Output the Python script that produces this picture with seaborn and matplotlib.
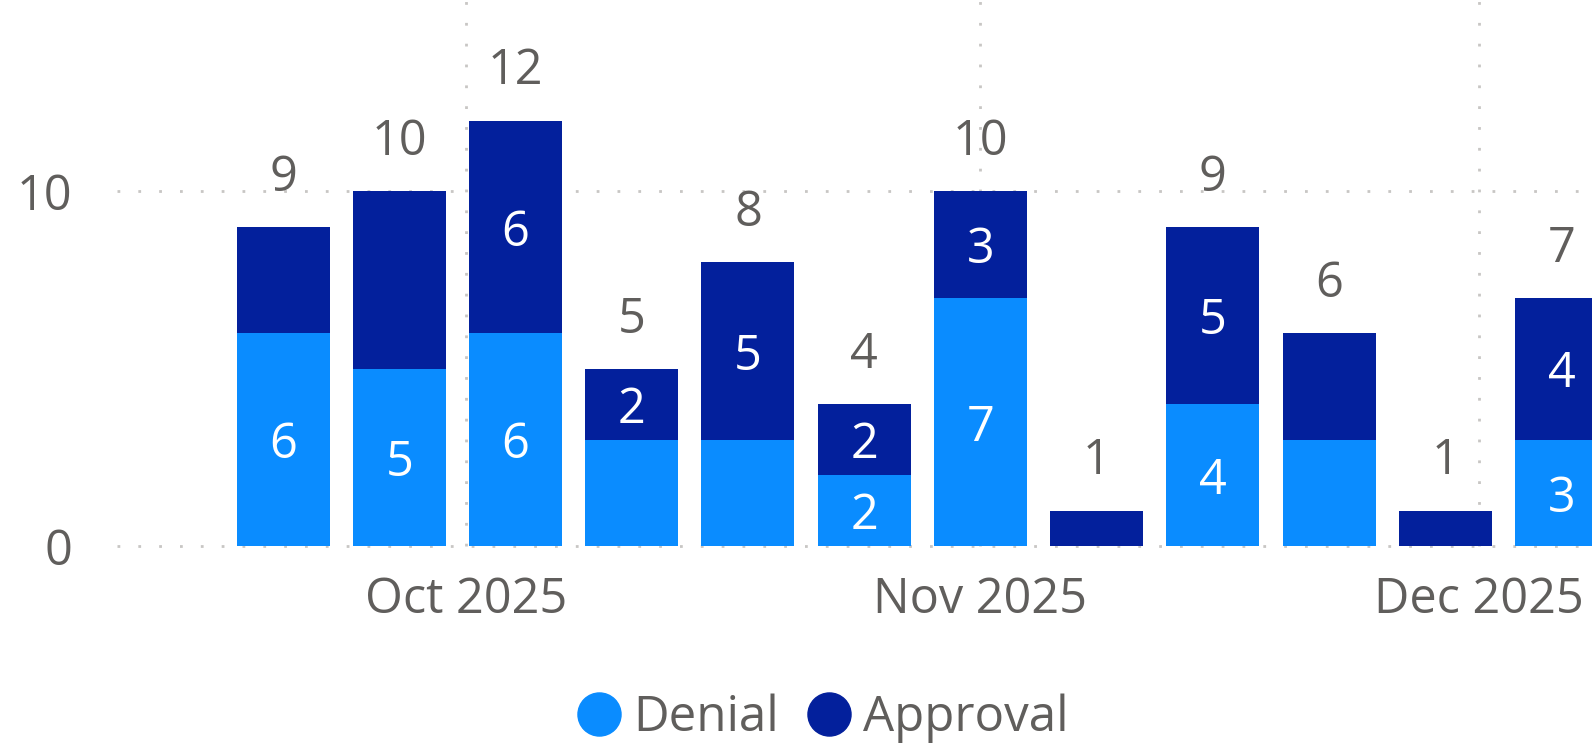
import matplotlib
matplotlib.use("Agg")
import pandas as pd
import seaborn as sns
import matplotlib.pyplot as plt
import matplotlib.dates as mdates
from matplotlib.lines import Line2D

# weekly counts (week ending, Saturday)
weeks = ["2025-09-20", "2025-09-27", "2025-10-04", "2025-10-11", "2025-10-18", "2025-10-25",
         "2025-11-01", "2025-11-08", "2025-11-15", "2025-11-22", "2025-11-29", "2025-12-06"]
denial = [6, 5, 6, 3, 3, 2, 7, 0, 4, 3, 0, 3]
approval = [3, 5, 6, 2, 5, 2, 3, 1, 5, 3, 1, 4]
# labels that are shown inside the segments (None = hidden)
denial_labels = [6, 5, 6, None, None, 2, 7, None, 4, None, None, 3]
approval_labels = [None, None, 6, 2, 5, 2, 3, None, 5, None, None, 4]
series = ["Denial", "Approval"]
colors = ["#0A8CFF", "#03209C"]
x_range = ["2025-09-10", "2025-12-07 20:00"]
y_ticks = [0, 10]

sns.set_theme(style="white")
plt.rcParams["font.family"] = ["Open Sans", "DejaVu Sans"]
txt_color = "#605E5C"

df = pd.DataFrame({"week": pd.to_datetime(weeks), "Denial": denial, "Approval": approval})
df["total"] = df["Denial"] + df["Approval"]
df["x"] = mdates.date2num(df["week"])

fig = plt.figure(figsize=(15.92, 7.51), dpi=100)
ax = fig.add_axes([0.0735, 0.273, 0.9265, 0.727])

# stacked bars: total in dark blue, denial drawn over it from zero
sns.barplot(data=df, x="x", y="total", native_scale=True, color=colors[1], saturation=1,
            width=0.8, errorbar=None, linewidth=0, ax=ax, zorder=2)
sns.barplot(data=df, x="x", y="Denial", native_scale=True, color=colors[0], saturation=1,
            width=0.8, errorbar=None, linewidth=0, ax=ax, zorder=3)

# labels
for i, row in df.iterrows():
    ax.annotate(str(row["total"]), (row["x"], row["total"]), xytext=(0, 26),
                textcoords="offset points", ha="center", va="baseline",
                fontsize=35, color=txt_color, zorder=5)
    if denial_labels[i] is not None:
        ax.text(row["x"], row["Denial"] / 2, str(denial_labels[i]), ha="center",
                va="center_baseline", fontsize=35, color="white", zorder=5)
    if approval_labels[i] is not None:
        ax.text(row["x"], row["Denial"] + row["Approval"] / 2, str(approval_labels[i]),
                ha="center", va="center_baseline", fontsize=35, color="white", zorder=5)

ax.set_xlim(mdates.date2num(pd.to_datetime(x_range[0])), mdates.date2num(pd.to_datetime(x_range[1])))
ax.set_ylim(0, 15.4)
ax.set_yticks(y_ticks)
ax.xaxis.set_major_locator(mdates.MonthLocator())
ax.xaxis.set_major_formatter(mdates.DateFormatter("%b %Y"))
ax.set_xlabel("")
ax.set_ylabel("")

ax.grid(True, color="#C8C6C4", linestyle=(0, (1, 6.5)), linewidth=2)
ax.set_axisbelow(True)
for line in ax.get_xgridlines() + ax.get_ygridlines():
    line.set_clip_on(False)
for s in ax.spines.values():
    s.set_visible(False)

ax.tick_params(axis="both", length=0, labelsize=35, colors=txt_color)
ax.tick_params(axis="y", pad=32)
ax.tick_params(axis="x", pad=21)

handles = [Line2D([], [], marker="o", linestyle="", markersize=31, color=c) for c in colors]
fig.legend(handles, series, loc="center", bbox_to_anchor=(0.516, 0.043), ncol=2, frameon=False,
           handletextpad=0.2, columnspacing=0.5, fontsize=35.5, labelcolor=txt_color,
           handlelength=1)

fig.savefig("out.png", dpi=100)
